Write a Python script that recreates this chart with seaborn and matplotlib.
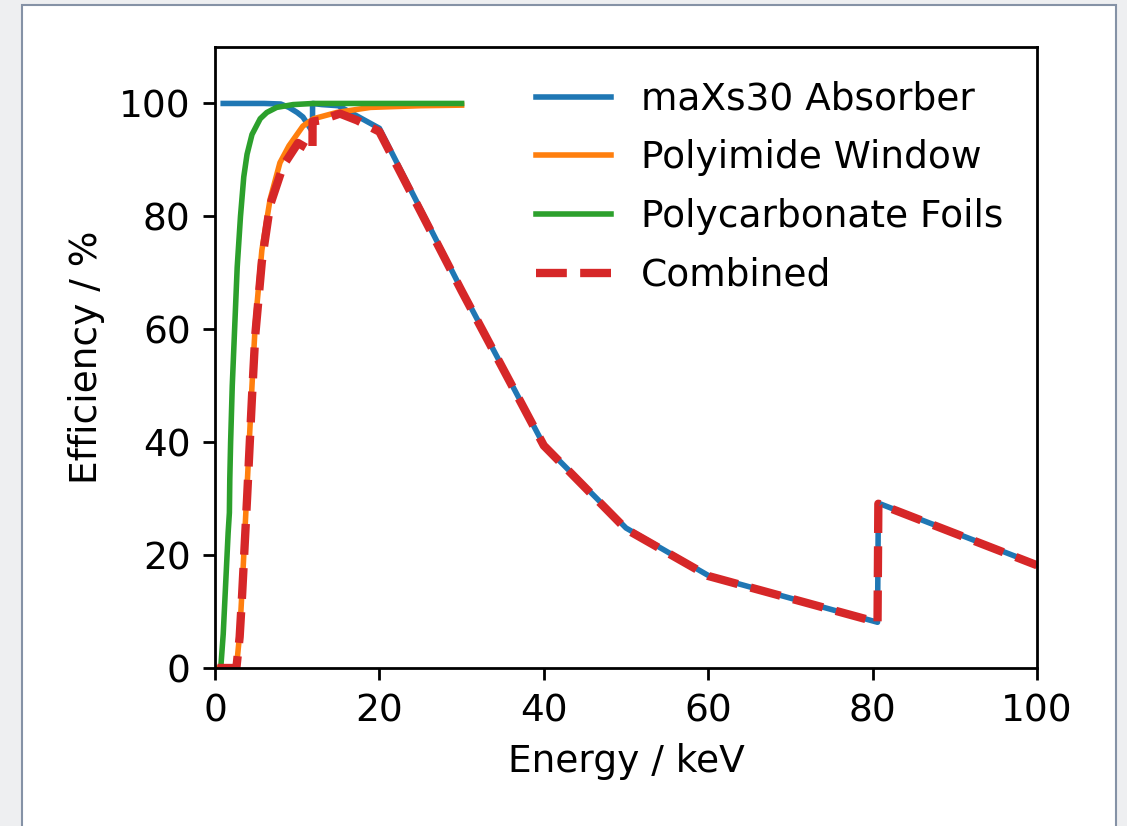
import matplotlib
matplotlib.use("Agg")
import matplotlib.pyplot as plt
from matplotlib.patches import Rectangle
import pandas as pd
import seaborn as sns

# Detection efficiency of the maXs30 detector components (Energy in keV, efficiency in %)
absorber_energy = [1.0, 6.0, 8.0, 9.0, 10.0, 10.7, 11.86, 11.87, 13.0, 15.0, 20.0,
                   30.0, 40.0, 50.0, 60.0, 80.6, 80.7, 100.0]
absorber_eff = [100.0, 100.0, 99.9, 99.3, 98.4, 97.6, 95.0, 100.0, 99.8, 99.6, 95.6,
                67.0, 39.5, 24.8, 16.4, 8.1, 29.2, 18.3]

window_energy = [0.3, 2.6, 3.0, 3.3, 3.9, 4.5, 4.9, 5.7, 6.7, 7.9, 9.0, 10.7, 12.0,
                 14.8, 18.9, 25.0, 30.0]
window_eff = [0.0, 0.0, 6.0, 14.0, 32.0, 50.0, 61.0, 74.0, 83.0, 89.5, 92.5, 96.0, 97.3,
              98.4, 99.3, 99.6, 99.7]

foils_energy = [0.7, 1.0, 1.3, 1.6, 1.75, 1.8, 1.9, 2.1, 2.4, 2.7, 3.1, 3.5, 3.9, 4.5,
                5.5, 6.3, 7.5, 9.5, 12.0, 30.0]
foils_eff = [0.0, 6.0, 15.0, 24.0, 27.5, 33.5, 40.0, 50.0, 60.5, 71.0, 80.0, 87.0, 91.0,
             94.5, 97.3, 98.4, 99.3, 99.8, 100.0, 100.0]

combined_energy = [0.3, 2.6, 3.0, 3.3, 3.9, 4.5, 4.9, 5.7, 6.7, 8.3, 10.1, 11.86, 11.87,
                   12.8, 15.2, 17.3, 20.0, 30.0, 40.0, 50.0, 60.0, 80.6, 80.7, 100.0]
combined_eff = [0.0, 0.0, 5.5, 13.0, 30.0, 48.0, 59.0, 72.0, 82.0, 89.0, 93.0, 91.5, 96.8,
                97.0, 98.2, 97.0, 95.0, 66.8, 39.4, 24.6, 16.3, 8.1, 29.1, 18.2]

series = [
    ("maXs30 Absorber", absorber_energy, absorber_eff),
    ("Polyimide Window", window_energy, window_eff),
    ("Polycarbonate Foils", foils_energy, foils_eff),
    ("Combined", combined_energy, combined_eff),
]
colors = ["#1f77b4", "#ff7f0e", "#2ca02c", "#d62728"]

plt.rcParams["font.size"] = 10.8

fig = plt.figure(figsize=(4.508, 3.304), dpi=250, facecolor="#eeeff1")
# white page with a thin grey-blue border
fig.patches.append(Rectangle((22 / 1127, -0.05), (1116 - 22) / 1127, 1.05 - 5 / 826,
                             transform=fig.transFigure, facecolor="white",
                             edgecolor="#8592a6", linewidth=0.6, zorder=-10))
ax = fig.add_axes([215 / 1127, (826 - 668) / 826, (1037 - 215) / 1127, (668 - 47) / 826])
ax.set_facecolor("white")

for (label, x, y), c in zip(series, colors):
    df = pd.DataFrame({"Energy": x, "Efficiency": y})
    if label == "Combined":
        sns.lineplot(data=df, x="Energy", y="Efficiency", ax=ax, color=c, label=label,
                     sort=False, estimator=None, linewidth=2.4, linestyle="--")
    else:
        sns.lineplot(data=df, x="Energy", y="Efficiency", ax=ax, color=c, label=label,
                     sort=False, estimator=None, linewidth=1.6)

ax.set_xlim(0, 100)
ax.set_ylim(0, 110)
ax.set_xticks([0, 20, 40, 60, 80, 100])
ax.set_yticks([0, 20, 40, 60, 80, 100])
ax.set_xlabel("Energy / keV")
ax.set_ylabel("Efficiency / %")
ax.legend(loc="upper right", frameon=False, handlelength=2.0, labelspacing=0.58)

fig.savefig("out.png", dpi=250, facecolor=fig.get_facecolor())
